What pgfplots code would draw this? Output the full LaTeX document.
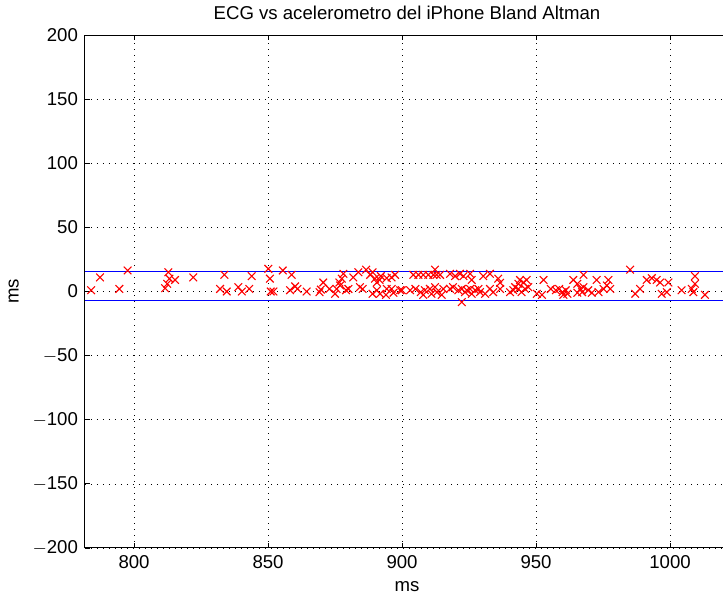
\documentclass[border=0pt]{standalone}
\usepackage{pgfplots}
\pgfplotsset{compat=1.18}
\usepackage{fontspec}
\setmainfont{Liberation Sans}
\definecolor{mblue}{rgb}{0,0,1}
\definecolor{mred}{rgb}{1,0,0}
\begin{document}
\begin{tikzpicture}
\begin{axis}[
  at={(0,0)}, anchor=south west,
  scale only axis,
  width=322pt, height=256.5pt,
  xmin=781.7, xmax=1022,
  ymin=-200, ymax=200,
  xtick={800,850,900,950,1000},
  ytick={-200,-150,-100,-50,0,50,100,150,200},
  tick align=inside,
  major tick length=2.5pt,
  tick style={black, line width=0.4pt},
  grid=major,
  grid style={black, line width=0.3pt, dash pattern=on 0.4pt off 2.6pt},
  axis line style={black, line width=0.5pt},
  font=\fontsize{9.3}{11}\selectfont,
  tick label style={font=\fontsize{9.3}{11}\selectfont},
  /pgf/number format/assume math mode=true,
  /pgf/number format/1000 sep={},
  title={ECG vs acelerometro del iPhone Bland Altman},
  title style={font=\fontsize{9.3}{11}\selectfont, yshift=-2pt},
  xlabel={ms}, ylabel={ms},
  yticklabel={\ifdim\tick pt<0pt $-$\pgfmathparse{abs(\tick)}\pgfmathprintnumber{\pgfmathresult}\else\pgfmathprintnumber{\tick}\fi},
]
\addplot[mblue, line width=0.7pt, forget plot] coordinates {(781.7,15.8) (1022,15.8)};
\addplot[mblue, line width=0.7pt, forget plot] coordinates {(781.7,-7.0) (1022,-7.0)};
\addplot[mred, only marks, mark=x, mark size=2.7pt, line width=0.55pt] coordinates {
(784,1) (787.3,11) (794.5,2) (797.6,16.4) (811.6,2.6) (812.4,6) (812.8,15) (813.2,10) (815.3,9) (822.1,11) (832.1,2) (833.7,13) (834.6,0) (838.9,3.4) (840.2,0) (843,2) (843.9,12) (850.1,17.7) (850.7,10) (851,0) (852,0) (855.5,16.4) (858.2,1) (858.8,13) (860.1,4) (861,2) (864.4,0) (869.2,-0.5) (869.7,1.5) (870.6,7) (872.9,2) (875,-1.8) (875.6,2) (876.6,7) (876.9,4.7) (877.5,10) (878.1,13.8) (879.1,1) (880,2) (881.8,11) (883.7,15) (884.3,3.4) (885.3,2) (886.6,17) (888.1,13) (889,15) (889,-1.8) (889.9,10) (890.6,7) (890.6,1) (891.6,9) (891.8,-1.8) (892.1,12) (894,-2.6) (894.3,10.4) (894.3,2) (896.1,11) (896.1,2) (896.8,-1) (897.4,13) (899.3,1) (899.9,1) (903,1) (904.2,13) (905,2) (906.1,13) (907,-0.5) (907.9,13) (907.9,-2.6) (908.5,1) (909.8,13) (910.4,2) (911,-1.8) (911.7,13) (912.3,17) (912.3,3.4) (912.9,13) (913,-0.5) (914.2,13) (914.8,-2.6) (915.4,2) (917.9,13.8) (917.9,2) (919,3.4) (919.8,12) (921,1) (921.6,13.8) (922.3,2) (922.3,-8.3) (922.9,12) (923.5,-0.5) (924.2,1) (925.4,13.8) (925.4,2) (926,9) (926,-1.8) (927.3,1) (928.5,2) (929.1,-0.5) (930.3,12) (931,-1.8) (932.8,13.8) (932.8,2) (934,-0.5) (935.9,10) (936.6,6.8) (936.6,2) (940.3,-0.5) (941.5,1) (942.2,3.4) (943.4,6) (943.4,2) (944,9) (944.6,-0.5) (945.3,7) (945.9,2) (946.5,9) (947.1,3.4) (950.3,-1.8) (952.2,-2.6) (952.8,9) (955.5,2) (957.4,1) (958.6,2) (959.9,-0.5) (960.2,-2.6) (961.1,1) (961.7,-1.8) (963.9,9) (965.4,6) (965.4,-1) (966.6,2) (967.2,-0.5) (967.7,13) (967.7,3.4) (969.5,1) (970.8,-1) (972.6,9) (973.3,-0.5) (975.2,2) (976.4,4.7) (977,9) (977.7,2) (985.1,17) (987,-1.8) (988.8,2) (991.3,9) (993.2,10.4) (995,9) (996.3,7) (996.9,-1.8) (998.8,-0.5) (999.4,7) (1004.3,1) (1008.1,2) (1008.7,-0.5) (1009.3,12) (1009.3,6) (1013,-2.6)
};
\end{axis}
\pgfresetboundingbox
\path[use as bounding box] (-42.5pt,-25.5pt) rectangle (319pt,274pt);
\end{tikzpicture}
\end{document}
